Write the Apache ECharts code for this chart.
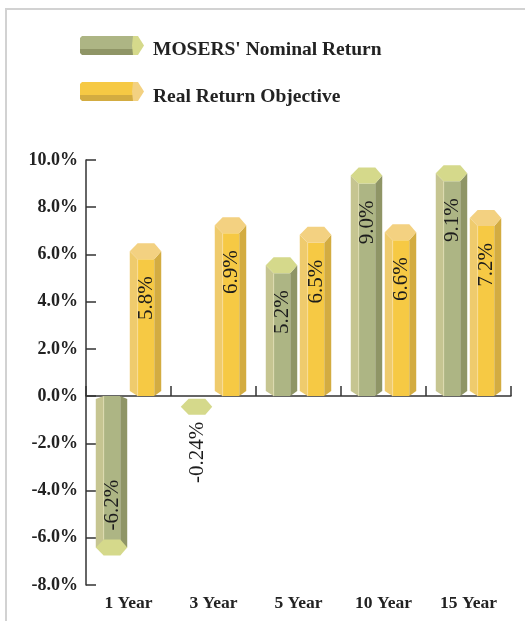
<!DOCTYPE html>
<html>
<head>
<meta charset="utf-8">
<script src="https://cdn.jsdelivr.net/npm/echarts@6/dist/echarts.min.js"></script>
<style>
  html, body { margin: 0; padding: 0; background: #fff; }
  #chart { width: 525px; height: 621px; }
</style>
</head>
<body>
<div id="chart"></div>
<script>
// Periods and returns (percent)
const categories = ['1 Year', '3 Year', '5 Year', '10 Year', '15 Year'];
const nominalReturn = [-6.2, -0.24, 5.2, 9.0, 9.1];
const realObjective = [5.8, 6.9, 6.5, 6.6, 7.2];
const seriesNames = ["MOSERS' Nominal Return", 'Real Return Objective'];

// Value axis range
const yMin = -8;
const yMax = 10;
const yStep = 2;

const SERIF = '"Liberation Serif", "DejaVu Serif", serif';

// Face colours for each prism: left side, front, right side, end cap
const palettes = [
  { left: '#c6c591', front: '#adb584', right: '#8f9566', cap: '#d5d98b', edge: '#dedcb0' },
  { left: '#efcb6d', front: '#f6c944', right: '#d3ac41', cap: '#f3d181', edge: '#f8dd98' }
];

function fmtPct(v) {
  return (Math.round(v * 10) === v * 10 ? v.toFixed(1) : String(v)) + '%';
}

// Draws one hexagonal prism from the axis to the value
function prism(params, api) {
  const si = params.seriesIndex;
  const pal = palettes[si];
  const cat = api.value(0);
  const val = api.value(1);
  const band = api.size([1, 0])[0];
  const base = api.coord([cat, 0]);
  const tip = api.coord([cat, val]);
  const cx = base[0] + (si === 0 ? -0.2 : 0.2) * band;
  const w = band * 0.37;
  const xL = cx - w / 2, xR = cx + w / 2;
  const xA = xL + w * 0.25, xB = xR - w * 0.22;
  const hh = 8;
  const y0 = base[1];
  const yv = tip[1];
  const kids = [];
  const poly = (pts, fill) => kids.push({ type: 'polygon', shape: { points: pts }, style: { fill: fill } });

  let labelPos, labelAlign;
  if (val >= 0) {
    const hb = 5;
    poly([[xL, yv - hh], [xA, yv], [xA, y0], [xL, y0 - hb]], pal.left);
    poly([[xA, yv], [xB, yv], [xB, y0], [xA, y0]], pal.front);
    poly([[xB, yv], [xR, yv - hh], [xR, y0 - hb], [xB, y0]], pal.right);
    kids.push({ type: 'line', shape: { x1: xA, y1: yv, x2: xA, y2: y0 }, style: { stroke: pal.edge, lineWidth: 1 } });
    poly([[xL, yv - hh], [xA, yv - 2 * hh], [xB, yv - 2 * hh], [xR, yv - hh], [xB, yv], [xA, yv]], pal.cap);
    labelPos = [cx + 1, yv + 17];
    labelAlign = 'right';
  } else {
    const ct = yv - 3;
    if (ct > y0 + 3) {
      poly([[xL, y0 + 3], [xA, y0], [xA, ct + hh], [xL, ct + hh]], pal.left);
      poly([[xA, y0], [xB, y0], [xB, ct + hh], [xA, ct + hh]], pal.front);
      poly([[xB, y0], [xR, y0 + 3], [xR, ct + hh], [xB, ct + hh]], pal.right);
      kids.push({ type: 'line', shape: { x1: xA, y1: y0, x2: xA, y2: ct }, style: { stroke: pal.edge, lineWidth: 1 } });
    }
    poly([[xL, ct + hh], [xA, ct], [xB, ct], [xR, ct + hh], [xB, ct + 2 * hh], [xA, ct + 2 * hh]], pal.cap);
    if (ct - y0 > 60) {
      labelPos = [cx + 1, yv - 12];
      labelAlign = 'left';
    } else {
      labelPos = [cx + 1, yv + 20];
      labelAlign = 'right';
    }
  }
  kids.push({
    type: 'text',
    x: labelPos[0], y: labelPos[1],
    rotation: Math.PI / 2,
    style: {
      text: fmtPct(val),
      align: labelAlign,
      verticalAlign: 'middle',
      fill: '#1c1c1c',
      font: '21px ' + SERIF
    }
  });
  return { type: 'group', children: kids };
}

// Horizontal prism used as a legend key
function legendKey(x, y, pal) {
  const w = 64, h = 19, capW = 11, strip = 6;
  const body = x + w - capW;
  return {
    type: 'group',
    children: [
      { type: 'polygon', shape: { points: [[x + 2, y], [body + 2, y], [body + 2, y + h - strip], [x, y + h - strip], [x, y + 2]] }, style: { fill: pal.front } },
      { type: 'polygon', shape: { points: [[x, y + h - strip], [body + 2, y + h - strip], [body + 2, y + h], [x + 2, y + h], [x, y + h - 2]] }, style: { fill: pal.right } },
      { type: 'polygon', shape: { points: [[body, y], [body + 5, y], [x + w, y + h / 2], [body + 5, y + h], [body, y + h], [body - 1, y + h / 2]] }, style: { fill: pal.cap } }
    ]
  };
}

const chart = echarts.init(document.getElementById('chart'), null, { renderer: 'canvas' });

chart.setOption({
  animation: false,
  backgroundColor: '#ffffff',
  grid: { left: 86, right: 14, top: 160, bottom: 36 },
  xAxis: [
    {
      type: 'category',
      data: categories,
      axisLine: { onZero: true, lineStyle: { color: '#333333', width: 1.5 } },
      axisTick: { show: true, inside: true, length: 10, lineStyle: { color: '#333333', width: 1.5 } },
      axisLabel: { show: false },
      splitLine: { show: false }
    },
    {
      type: 'category',
      data: categories,
      position: 'bottom',
      axisLine: { show: false, onZero: false },
      axisTick: { show: false },
      axisLabel: {
        show: true,
        margin: 9,
        color: '#222222',
        fontFamily: SERIF,
        fontWeight: 'bold',
        fontSize: 17.5
      },
      splitLine: { show: false }
    }
  ],
  yAxis: {
    type: 'value',
    min: yMin,
    max: yMax,
    interval: yStep,
    axisLine: { show: true, lineStyle: { color: '#333333', width: 1.5 } },
    axisTick: { show: true, inside: true, length: 10, lineStyle: { color: '#333333', width: 1.5 } },
    axisLabel: {
      margin: 8,
      color: '#222222',
      fontFamily: SERIF,
      fontWeight: 'bold',
      fontSize: 18,
      formatter: v => v.toFixed(1) + '%'
    },
    splitLine: { show: false }
  },
  series: [
    {
      name: seriesNames[0],
      type: 'custom',
      xAxisIndex: 0,
      renderItem: prism,
      encode: { x: 0, y: 1 },
      data: nominalReturn.map((v, i) => [i, v])
    },
    {
      name: seriesNames[1],
      type: 'custom',
      xAxisIndex: 0,
      renderItem: prism,
      encode: { x: 0, y: 1 },
      data: realObjective.map((v, i) => [i, v])
    }
  ],
  graphic: [
    // frame
    { type: 'line', shape: { x1: 5, y1: 9, x2: 525, y2: 9 }, style: { stroke: '#d2d2d2', lineWidth: 2 } },
    { type: 'line', shape: { x1: 6, y1: 9, x2: 6, y2: 621 }, style: { stroke: '#d2d2d2', lineWidth: 2 } },
    // legend
    legendKey(80, 36, palettes[0]),
    { type: 'text', x: 153, y: 50, style: { text: seriesNames[0], fill: '#222222', font: 'bold 19.5px ' + SERIF, verticalAlign: 'middle' } },
    legendKey(80, 82, palettes[1]),
    { type: 'text', x: 153, y: 97, style: { text: seriesNames[1], fill: '#222222', font: 'bold 19.5px ' + SERIF, verticalAlign: 'middle' } }
  ]
});
</script>
</body>
</html>
